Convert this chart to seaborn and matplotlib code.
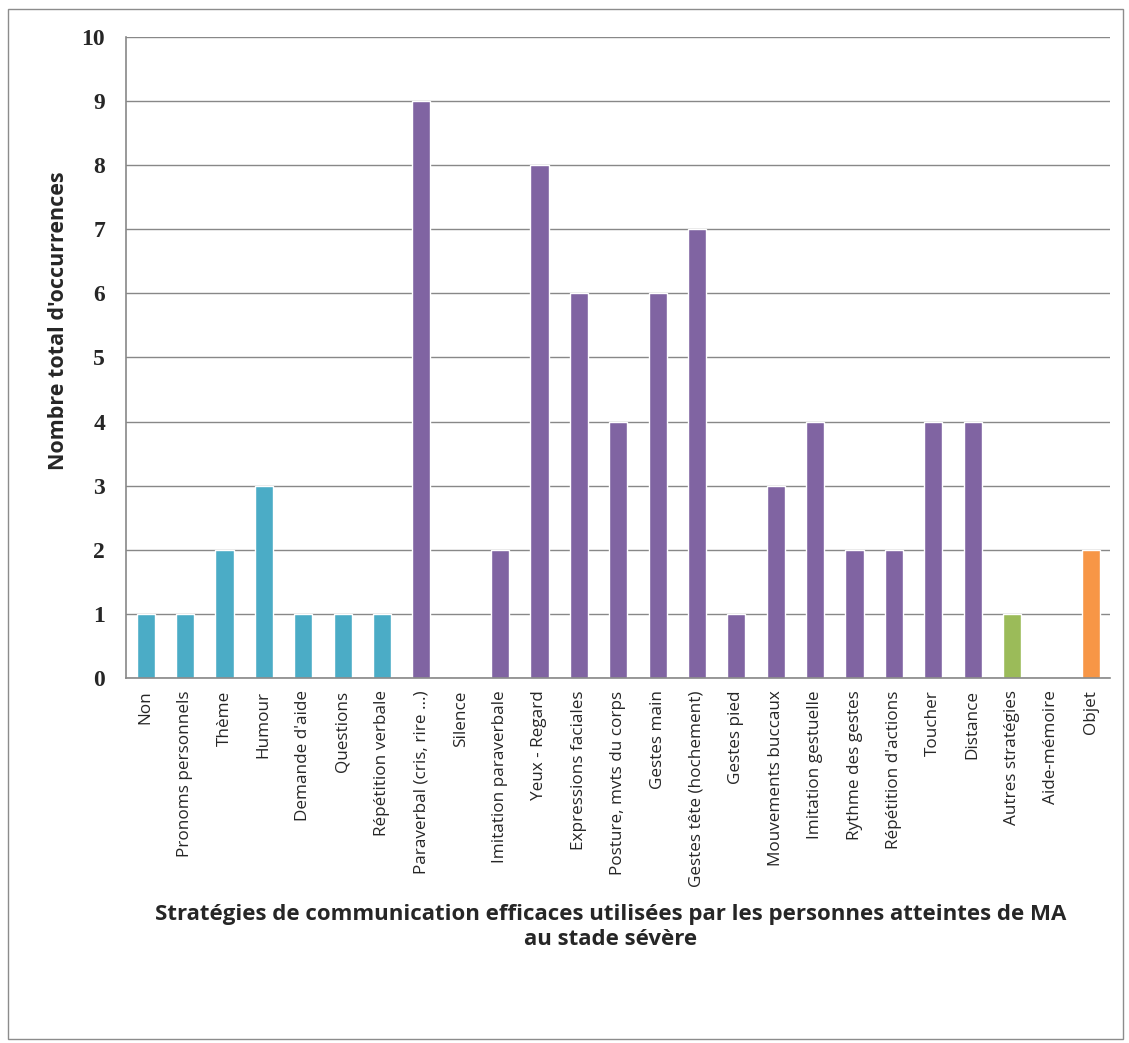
import numpy as np
import pandas as pd
import matplotlib.pyplot as plt
import seaborn as sns
from matplotlib.patches import Rectangle
from matplotlib.ticker import FixedLocator

# --- Data ---
categories = [
    "Non", "Pronoms personnels", "Thème", "Humour", "Demande d'aide",
    "Questions", "Répétition verbale", "Paraverbal (cris, rire ...)", "Silence",
    "Imitation paraverbale", "Yeux - Regard", "Expressions faciales",
    "Posture, mvts du corps", "Gestes main", "Gestes tête (hochement)",
    "Gestes pied", "Mouvements buccaux", "Imitation gestuelle",
    "Rythme des gestes", "Répétition d'actions", "Toucher", "Distance",
    "Autres stratégies", "Aide-mémoire", "Objet",
]
values = [1, 1, 2, 3, 1, 1, 1, 9, 0, 2, 8, 6, 4, 6, 7, 1, 3, 4, 2, 2, 4, 4, 1, 0, 2]
groups = ["verbal"] * 7 + ["nonverbal"] * 15 + ["autres", "aide", "objet"]
group_colors = {"verbal": "#4BACC6", "nonverbal": "#8064A2",
                "autres": "#9BBB59", "aide": "#9BBB59", "objet": "#F79646"}

df = pd.DataFrame({"cat": categories, "val": values, "grp": groups})

# --- Plot ---
sns.set_style("white")
plt.rcParams['font.family'] = ['Open Sans', 'DejaVu Sans']

fig = plt.figure(figsize=(11.29, 10.43), dpi=100)
ax = fig.add_axes([0.1116, 0.35, 0.872, 0.6145])

sns.barplot(data=df, x="cat", y="val", hue="grp", palette=group_colors,
            dodge=False, width=0.46, legend=False, ax=ax, saturation=1)

ax.set_ylim(0, 10)
ax.set_xlim(-0.5, len(categories) - 0.5)
ax.set_yticks(range(0, 11))
ax.set_yticklabels([str(v) for v in range(0, 11)], fontsize=17, fontweight="bold",
                   family="Liberation Serif")
ax.yaxis.grid(True, color="#888888", linewidth=1)
ax.set_axisbelow(True)

for s in ["top", "right"]:
    ax.spines[s].set_visible(False)
for s in ["left", "bottom"]:
    ax.spines[s].set_color("#888888")
    ax.spines[s].set_linewidth(1.2)

ax.tick_params(axis="y", length=7, color="#888888", pad=8)
ax.set_xticks(range(len(categories)))
ax.set_xticklabels(categories, rotation=90, fontsize=12.3)
ax.tick_params(axis="x", which="major", length=0, pad=9)
ax.xaxis.set_minor_locator(FixedLocator(np.arange(-0.5, len(categories), 1)))
ax.tick_params(axis="x", which="minor", length=7, color="#888888", direction="out")

ax.set_xlabel("Stratégies de communication efficaces utilisées par les personnes atteintes de MA\nau stade sévère",
              fontsize=16, fontweight="bold", linespacing=1.3)
ax.xaxis.set_label_coords(0.492, -0.352)
ax.set_ylabel("Nombre total d'occurrences", fontsize=15.5, fontweight="bold")
ax.yaxis.set_label_coords(-0.058, 0.558)

fig.patches.append(Rectangle((0.007, 0.004), 0.988, 0.987, transform=fig.transFigure,
                             fill=False, edgecolor="#8c8c8c", linewidth=1))

fig.savefig("out.png", dpi=100)
